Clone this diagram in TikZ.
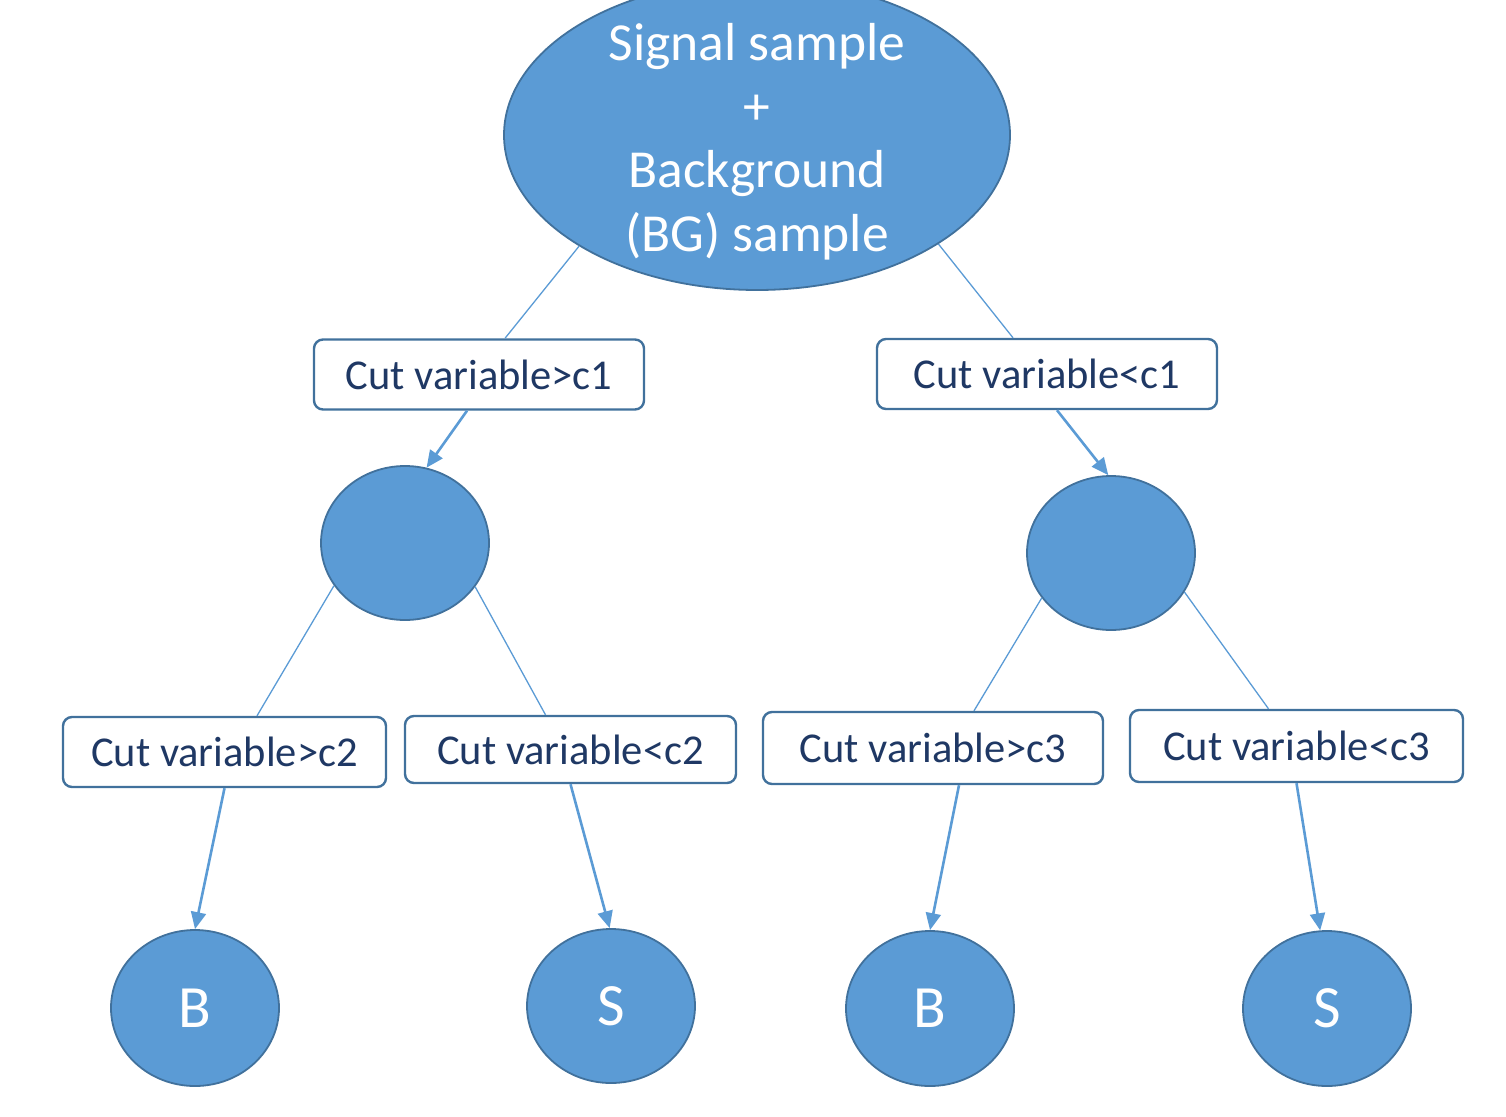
\documentclass[tikz,border=0pt]{standalone}
\usepackage{fontspec}
\setmainfont{Carlito}
\usetikzlibrary{shapes.geometric,arrows.meta}
\definecolor{fillblue}{HTML}{5B9BD5}
\definecolor{edgeblue}{HTML}{41719C}
\definecolor{navy}{HTML}{1F3864}
\tikzset{
  blob/.style={ellipse, fill=fillblue, draw=edgeblue, line width=1.8pt, inner sep=0pt, text=white},
  cutbox/.style={rectangle, rounded corners=9pt, draw=edgeblue, line width=2.4pt, fill=white, inner sep=0pt,
    text=navy, font=\fontsize{42.5}{48}\selectfont, minimum height=70pt},
  thinlink/.style={draw=fillblue, line width=1.3pt},
  arrowlink/.style={draw=fillblue, line width=2.6pt, -{Triangle[length=17pt,width=15pt]}},
  leafletter/.style={font=\fontsize{60}{70}\selectfont}
}
\begin{document}
\begin{tikzpicture}[x=1pt,y=-1pt]
\useasboundingbox (0,0) rectangle (1506,1116);
\begin{scope}
\clip (0,0) rectangle (1506,1116);
\node[blob, minimum width=506pt, minimum height=310pt] (top) at (757,135) {};
\node[text=white, align=center, inner sep=0pt,
  font=\fontsize{53.5}{63.5}\selectfont] (toptext) at (757,141.5)
  {Signal sample\\+\\Background\\(BG) sample};
\end{scope}

\node[cutbox, minimum width=330pt] (b1) at (479,374.5) {Cut variable>c1};
\node[cutbox, minimum width=340pt] (b2) at (1047,374) {Cut variable<c1};

\node[blob, minimum width=168pt, minimum height=154pt] (c1) at (405,543) {};
\node[blob, minimum width=168pt, minimum height=154pt] (c2) at (1111,553) {};

\node[cutbox, minimum width=323pt] (b3) at (224.5,752) {Cut variable>c2};
\node[cutbox, minimum width=331pt, minimum height=67pt] (b4) at (570.5,749.5) {Cut variable<c2};
\node[cutbox, minimum width=340pt, minimum height=72pt] (b5) at (933,748) {Cut variable>c3};
\node[cutbox, minimum width=333pt, minimum height=72pt] (b6) at (1296.5,746) {Cut variable<c3};

\node[blob, leafletter, minimum width=168pt, minimum height=156pt] (l1) at (195,1008) {B};
\node[blob, leafletter, minimum width=168pt, minimum height=154pt] (l2) at (611,1006) {S};
\node[blob, leafletter, minimum width=168pt, minimum height=155pt] (l3) at (930,1008.5) {B};
\node[blob, leafletter, minimum width=168pt, minimum height=155pt] (l4) at (1327,1008.5) {S};

% links from the top ellipse
\draw[thinlink] (top.212.6) -- ([xshift=26pt]b1.north);
\draw[thinlink] (top.329.4) -- ([xshift=-34pt]b2.north);

% arrows to the middle circles
\draw[arrowlink] ([xshift=-12pt]b1.south) -- (c1.74.7);
\draw[arrowlink] ([xshift=10pt]b2.south) -- (c2.92);

% links from middle circles
\draw[thinlink] (c1.211.8) -- ([xshift=32.5pt]b3.north);
\draw[thinlink] (c1.328.6) -- ([xshift=-25pt]b4.north);
\draw[thinlink] (c2.213.1) -- ([xshift=41pt]b5.north);
\draw[thinlink] (c2.332.5) -- ([xshift=-28pt]b6.north);

% arrows to the leaves
\draw[arrowlink] (b3.south) -- (l1.north);
\draw[arrowlink] (b4.south) -- (l2.91.5);
\draw[arrowlink] ([xshift=26pt]b5.south) -- (l3.north);
\draw[arrowlink] (b6.south) -- (l4.95);
\end{tikzpicture}
\end{document}
